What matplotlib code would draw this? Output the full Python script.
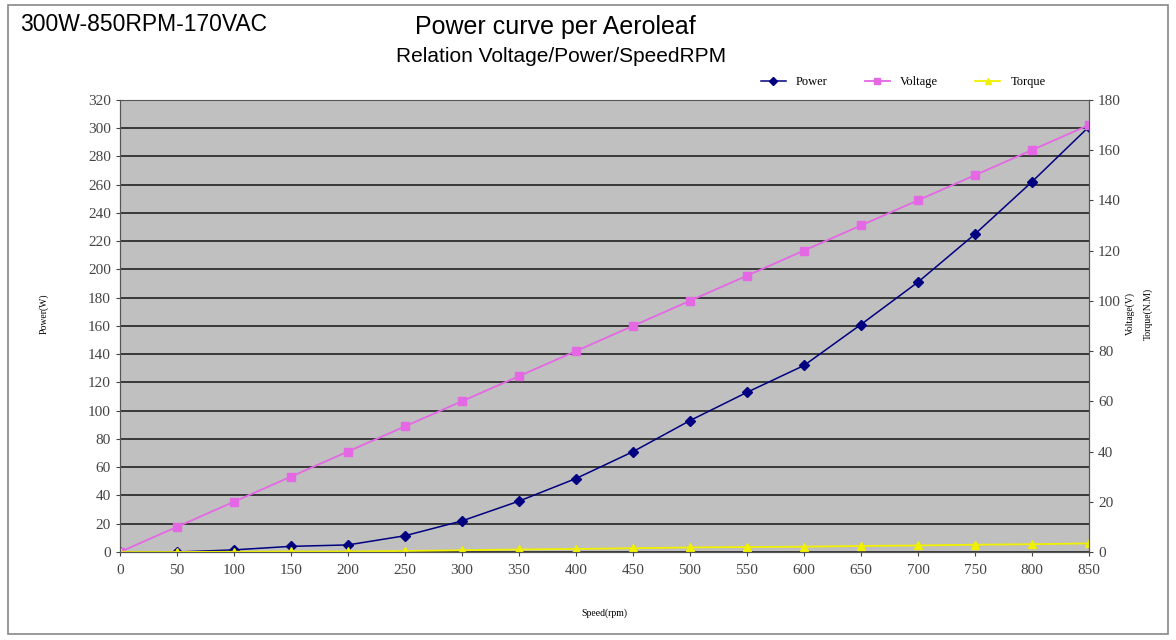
import matplotlib.pyplot as plt
from matplotlib.patches import Rectangle

speed = [0, 50, 100, 150, 200, 250, 300, 350, 400, 450, 500, 550, 600, 650, 700, 750, 800, 850]
power = [0, 0, 1.5, 4, 5, 11.5, 22, 36, 52, 71, 93, 113, 132, 161, 191, 225, 262, 301]
voltage = [0, 10, 20, 30, 40, 50, 60, 70, 80, 90, 100, 110, 120, 130, 140, 150, 160, 170]
torque = [0, 0, 0.1, 0.2, 0.2, 0.4, 0.7, 1.0, 1.2, 1.5, 1.8, 2.0, 2.1, 2.4, 2.6, 2.9, 3.1, 3.4]

sans = ['Liberation Sans', 'DejaVu Sans']
serif = ['Liberation Serif', 'DejaVu Serif']

fig = plt.figure(figsize=(11.76, 6.4), dpi=100)
fig.patches.append(Rectangle((0.007, 0.01), 0.986, 0.982, transform=fig.transFigure,
                             fill=False, edgecolor='#888888', linewidth=1.2))

ax = fig.add_axes([0.102, 0.1375, 0.824, 0.7065])
ax.set_facecolor('#c0c0c0')
ax2 = ax.twinx()

l1, = ax.plot(speed, power, color='#000080', marker='D', markersize=5, linewidth=1.1, label='Power')
l2, = ax2.plot(speed, voltage, color='#e468e4', marker='s', markersize=6, linewidth=1.3, label='Voltage')
l3, = ax2.plot(speed, torque, color='#f0f000', marker='^', markersize=6, linewidth=1.3, label='Torque')

ax.set_xlim(0, 850)
ax.set_ylim(0, 320)
ax2.set_ylim(0, 180)
ax.set_xticks(speed)
ax.set_yticks(range(0, 321, 20))
ax2.set_yticks(range(0, 181, 20))
ax.grid(axis='y', color='#222222', linewidth=1.2)
ax.set_axisbelow(True)

for a in (ax, ax2):
    for s in a.spines.values():
        s.set_color('#555555')
    a.tick_params(labelsize=11, colors='#444444', length=3)
    for t in a.get_xticklabels() + a.get_yticklabels():
        t.set_family(serif)
ax.spines['top'].set_visible(False)
ax.tick_params(axis='x', pad=6)

ax.set_xlabel('Speed(rpm)', family=serif, fontsize=7, labelpad=22)
fig.text(0.033, 0.51, 'Power(W)', family=serif, fontsize=7, rotation=90, va='center')
fig.text(0.957, 0.51, 'Voltage(V)', family=serif, fontsize=7, rotation=90, va='center')
fig.text(0.972, 0.51, 'Torque(N.M)', family=serif, fontsize=7, rotation=90, va='center')

fig.text(0.017, 0.962, '300W-850RPM-170VAC', family=sans, fontsize=16.5, va='center')
fig.text(0.472, 0.958, 'Power curve per Aeroleaf', family=sans, fontsize=18, ha='center', va='center')
fig.text(0.477, 0.912, 'Relation Voltage/Power/SpeedRPM', family=sans, fontsize=15, ha='center', va='center')

fig.legend(handles=[l1, l2, l3], loc='center', bbox_to_anchor=(0.768, 0.872), ncol=3, frameon=False,
           prop={'family': serif, 'size': 9}, handlelength=2.0, columnspacing=3.0, markerscale=0.8)

fig.savefig('out.png', dpi=100)
